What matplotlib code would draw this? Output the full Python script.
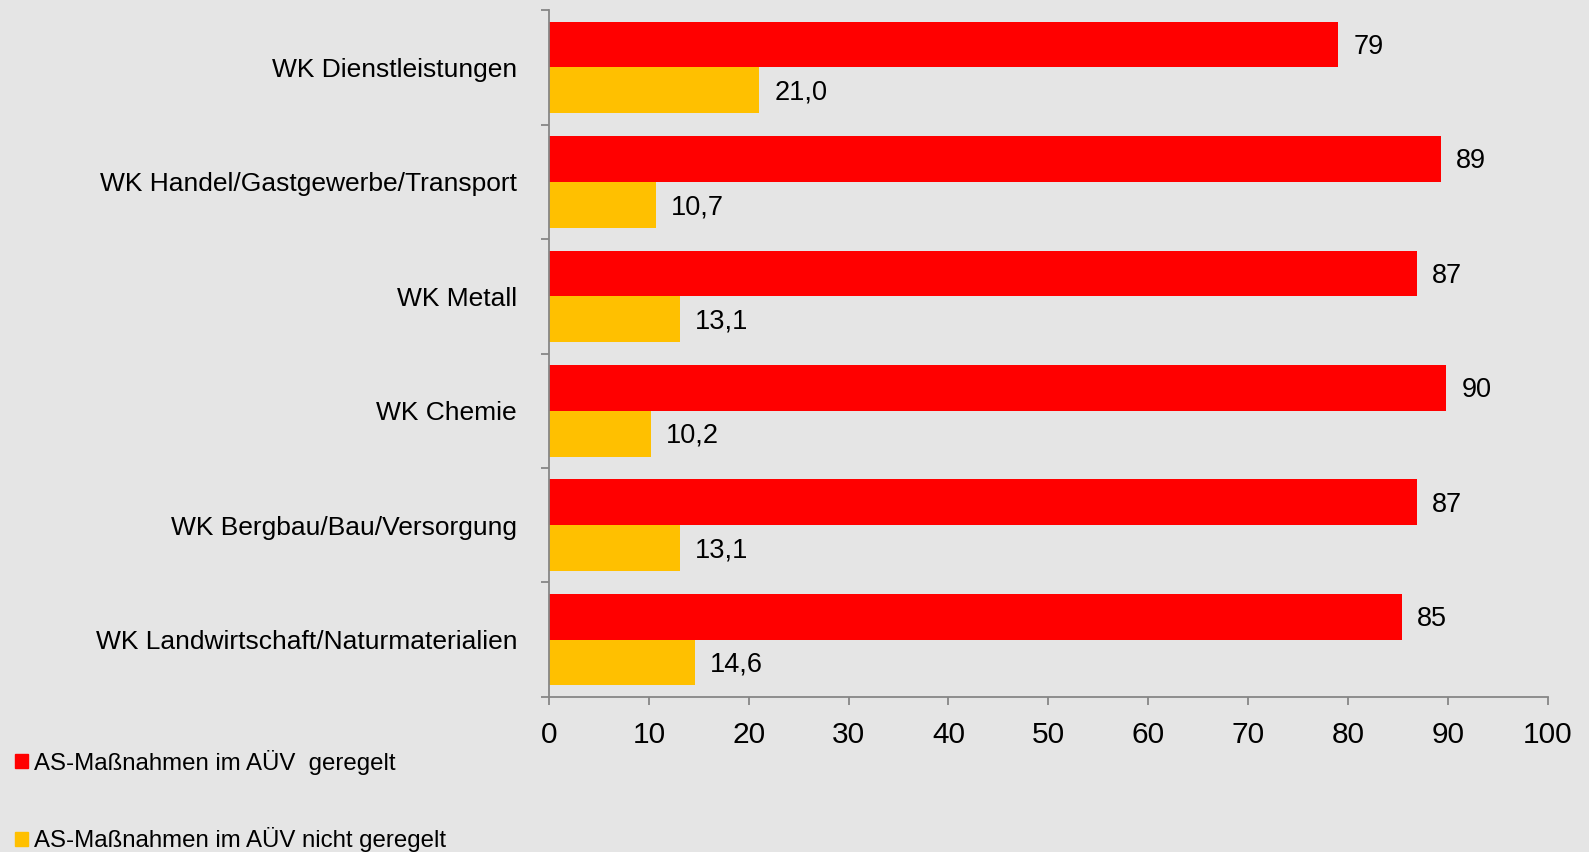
import numpy as np
import matplotlib
matplotlib.use("Agg")
import matplotlib.pyplot as plt
from matplotlib.patches import Patch

plt.rcParams['font.family'] = ['Liberation Sans', 'DejaVu Sans']

# Daten
kategorien = [
    "WK Dienstleistungen",
    "WK Handel/Gastgewerbe/Transport",
    "WK Metall",
    "WK Chemie",
    "WK Bergbau/Bau/Versorgung",
    "WK Landwirtschaft/Naturmaterialien",
]
geregelt = [79.0, 89.3, 86.9, 89.8, 86.9, 85.4]
nicht_geregelt = [21.0, 10.7, 13.1, 10.2, 13.1, 14.6]
x_ticks = [0, 10, 20, 30, 40, 50, 60, 70, 80, 90, 100]
legende = ["AS-Maßnahmen im AÜV  geregelt", "AS-Maßnahmen im AÜV nicht geregelt"]

rot = '#ff0000'
gelb = '#ffc000'
bg = '#e5e5e5'
achse = '#868686'

fig = plt.figure(figsize=(15.89, 8.52), dpi=100, facecolor=bg)
ax = fig.add_axes([0.3455, 0.182, 0.6285, 0.806])
ax.set_facecolor(bg)

y = np.arange(len(kategorien))
h = 0.4
ax.barh(y - h / 2, geregelt, height=h, color=rot)
ax.barh(y + h / 2, nicht_geregelt, height=h, color=gelb)

# Werte-Beschriftung (leicht nach unten versetzt wie im Original)
dy = 0.02
for yi, v in zip(y, geregelt):
    ax.text(v + 1.55, yi - h / 2 + dy, f"{v:.0f}", va='center', ha='left', fontsize=19.5)
for yi, v in zip(y, nicht_geregelt):
    ax.text(v + 1.55, yi + h / 2 + dy, f"{v:.1f}".replace('.', ','), va='center', ha='left', fontsize=19.5)

ax.set_xlim(0, 100)
ax.set_ylim(len(kategorien) - 0.5, -0.5)
ax.set_xticks(x_ticks)
ax.set_xticklabels([str(t) for t in x_ticks], fontsize=21.5)
ax.set_yticks(y)
ax.set_yticklabels(kategorien, fontsize=19)
ax.set_yticks(np.arange(len(kategorien) + 1) - 0.5, minor=True)
ax.tick_params(axis='y', which='major', length=0, pad=23)
ax.tick_params(axis='y', which='minor', length=6, width=1.3, color=achse, direction='out')
ax.tick_params(axis='x', length=6, width=1.3, color=achse, direction='out', pad=11)

for s in ['top', 'right']:
    ax.spines[s].set_visible(False)
for s in ['left', 'bottom']:
    ax.spines[s].set_color(achse)
    ax.spines[s].set_linewidth(1.3)

handles = [Patch(color=rot), Patch(color=gelb)]
fig.legend(handles, legende, loc='upper left', bbox_to_anchor=(-0.001, 0.14),
           frameon=False, fontsize=17.3, handlelength=0.55, handleheight=0.55,
           handletextpad=0.25, labelspacing=2.2, borderaxespad=0.3)

fig.savefig('out.png', dpi=100, facecolor=bg)
